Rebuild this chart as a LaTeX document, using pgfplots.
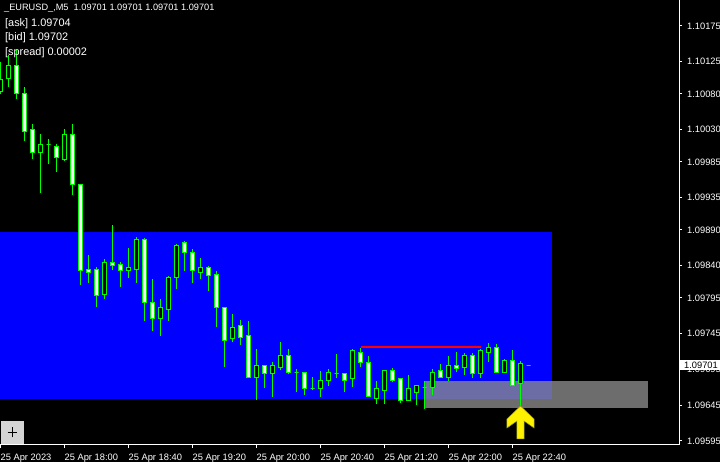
\documentclass[border=0pt]{standalone}
\usepackage{fontspec}
\setmainfont{Liberation Sans}
\usepackage{pgfplots}
\usepackage{pgfplotstable}
\pgfplotsset{compat=1.18}

\definecolor{mtgray}{RGB}{140,140,140}
\definecolor{btnface}{RGB}{212,212,212}
\definecolor{arrowedge}{RGB}{150,150,0}

% EURUSD M5, one row per bar: index, open, high, low, close
\pgfplotstableread{
x o h l c
0 1.10083 1.10125 1.10080 1.10100
1 1.10101 1.10134 1.10090 1.10120
2 1.10120 1.10141 1.10073 1.10081
3 1.10081 1.10090 1.10014 1.10027
4 1.10031 1.10038 1.09989 1.09998
5 1.09998 1.10024 1.09942 1.10010
6 1.10010 1.10017 1.09982 1.10010
7 1.10006 1.10010 1.09971 1.09991
8 1.09989 1.10031 1.09986 1.10023
9 1.10024 1.10038 1.09939 1.09953
10 1.09953 1.09953 1.09813 1.09833
11 1.09834 1.09855 1.09816 1.09831
12 1.09835 1.09838 1.09782 1.09798
13 1.09800 1.09849 1.09793 1.09844
14 1.09844 1.09897 1.09834 1.09840
15 1.09842 1.09845 1.09810 1.09833
16 1.09833 1.09865 1.09823 1.09837
17 1.09835 1.09880 1.09816 1.09876
18 1.09876 1.09879 1.09763 1.09788
19 1.09788 1.09821 1.09749 1.09766
20 1.09766 1.09793 1.09742 1.09782
21 1.09779 1.09826 1.09763 1.09823
22 1.09823 1.09870 1.09807 1.09868
23 1.09872 1.09875 1.09833 1.09858
24 1.09859 1.09863 1.09816 1.09833
25 1.09831 1.09851 1.09821 1.09838
26 1.09838 1.09840 1.09805 1.09826
27 1.09827 1.09833 1.09754 1.09781
28 1.09781 1.09781 1.09698 1.09735
29 1.09738 1.09772 1.09733 1.09753
30 1.09756 1.09764 1.09729 1.09740
31 1.09742 1.09763 1.09683 1.09684
32 1.09684 1.09724 1.09652 1.09700
33 1.09700 1.09701 1.09669 1.09689
34 1.09689 1.09705 1.09657 1.09700
35 1.09698 1.09733 1.09694 1.09714
36 1.09714 1.09724 1.09689 1.09691
37 1.09691 1.09696 1.09663 1.09691
38 1.09691 1.09691 1.09659 1.09668
39 1.09669 1.09684 1.09666 1.09669
40 1.09668 1.09693 1.09657 1.09680
41 1.09679 1.09696 1.09672 1.09691
42 1.09690 1.09717 1.09683 1.09690
43 1.09689 1.09690 1.09663 1.09679
44 1.09682 1.09724 1.09670 1.09722
45 1.09718 1.09725 1.09698 1.09705
46 1.09704 1.09714 1.09657 1.09657
47 1.09655 1.09679 1.09647 1.09668
48 1.09666 1.09693 1.09647 1.09693
49 1.09694 1.09697 1.09677 1.09680
50 1.09682 1.09682 1.09648 1.09651
51 1.09652 1.09687 1.09652 1.09668
52 1.09663 1.09673 1.09645 1.09673
53 1.09670 1.09679 1.09640 1.09670
54 1.09670 1.09696 1.09659 1.09691
55 1.09693 1.09703 1.09683 1.09684
56 1.09684 1.09714 1.09679 1.09700
57 1.09700 1.09719 1.09691 1.09696
58 1.09698 1.09718 1.09687 1.09715
59 1.09715 1.09718 1.09683 1.09690
60 1.09690 1.09724 1.09683 1.09721
61 1.09719 1.09732 1.09705 1.09725
62 1.09726 1.09731 1.09690 1.09691
63 1.09691 1.09710 1.09690 1.09708
64 1.09708 1.09722 1.09672 1.09673
65 1.09675 1.09707 1.09643 1.09703
66 1.09701 1.09701 1.09701 1.09701
}\ohlc

% 1.09701 -> 109701, to compare prices exactly
\def\pipval#1.#2\relax{#1#2}

\begin{document}
\begin{tikzpicture}
\fill[black] (0pt,0pt) rectangle (720pt,462pt);
\path[use as bounding box] (0pt,0pt) rectangle (720pt,462pt);

\begin{axis}[
  at={(0pt,17pt)}, anchor=south west,
  width=679pt, height=445pt, scale only axis,
  xmin=-0.0625, xmax=84.8125,
  ymin=1.095894, ymax=1.102113,
  axis x line*=bottom, axis y line*=right,
  axis line style={white, line width=1pt},
  tick style={white, line width=1pt},
  major tick length=3pt, tick align=outside,
  xtick={0,8,16,24,32,40,48,56,64},
  xticklabels={25 Apr 2023,25 Apr 18:00,25 Apr 18:40,25 Apr 19:20,25 Apr 20:00,25 Apr 20:40,25 Apr 21:20,25 Apr 22:00,25 Apr 22:40},
  ytick={1.09595,1.09645,1.09695,1.09745,1.09795,1.09840,1.09890,1.09935,1.09985,1.10030,1.10080,1.10125,1.10175},
  yticklabels={1.09595,1.09645,1.09695,1.09745,1.09795,1.09840,1.09890,1.09935,1.09985,1.10030,1.10080,1.10125,1.10175},
  scaled y ticks=false,
  ticklabel style={text=white, font=\fontsize{9.3pt}{10pt}\selectfont, inner sep=0pt},
  xticklabel style={anchor=base west, yshift=-12.7pt},
  yticklabel style={anchor=west, xshift=5pt},
]
% zones
\addplot[draw=none, fill=blue] coordinates {(-1,1.096537) (68.90,1.096537) (68.90,1.098871) (-1,1.098871)} -- cycle;
\addplot[draw=none, fill=mtgray, fill opacity=0.78] coordinates {(52.97,1.096411) (80.90,1.096411) (80.90,1.096789) (52.97,1.096789)} -- cycle;
\addplot[red, line width=2pt] coordinates {(45.0,1.09727) (60.05,1.09727)};

% candles
\pgfplotsinvokeforeach{0,...,66}{
  \pgfplotstablegetelem{#1}{x}\of\ohlc \let\cX\pgfplotsretval
  \pgfplotstablegetelem{#1}{o}\of\ohlc \let\cO\pgfplotsretval
  \pgfplotstablegetelem{#1}{h}\of\ohlc \let\cH\pgfplotsretval
  \pgfplotstablegetelem{#1}{l}\of\ohlc \let\cL\pgfplotsretval
  \pgfplotstablegetelem{#1}{c}\of\ohlc \let\cC\pgfplotsretval
  \ifnum\expandafter\pipval\cC\relax>\expandafter\pipval\cO\relax
    \def\bfill{black}\else\def\bfill{white}\fi
  \pgfmathsetmacro\xa{\cX-0.25}
  \pgfmathsetmacro\xb{\cX+0.25}
  \edef\tmp{
    \noexpand\addplot[green, line width=1pt] coordinates {(\cX,\cL) (\cX,\cH)};
    \noexpand\addplot[draw=green, fill=\bfill, line width=1pt]
      coordinates {(\xa,\cO) (\xb,\cO) (\xb,\cC) (\xa,\cC)} -- cycle;
  }
  \tmp
}

% signal arrow
\addplot[fill=yellow, draw=arrowedge, line width=0.5pt] coordinates {
  (65.0,1.096439) (66.69,1.096258) (66.69,1.096132) (65.44,1.096230)
  (65.44,1.095978) (64.56,1.095978) (64.56,1.096230) (63.31,1.096132)
  (63.31,1.096258)} -- cycle;
\end{axis}

% info text
\node[anchor=base west, inner sep=0pt, text=white, font=\fontsize{9.2pt}{10pt}\selectfont]
  at (4pt,451.7pt) {\_EURUSD\_,M5\ \ 1.09701 1.09701 1.09701 1.09701};
\node[anchor=base west, inner sep=0pt, text=white, font=\fontsize{10.9pt}{12pt}\selectfont]
  at (5pt,435.3pt) {{[}ask] 1.09704};
\node[anchor=base west, inner sep=0pt, text=white, font=\fontsize{10.9pt}{12pt}\selectfont]
  at (5pt,421.3pt) {{[}bid] 1.09702};
\node[anchor=base west, inner sep=0pt, text=white, font=\fontsize{10.9pt}{12pt}\selectfont]
  at (5pt,406.3pt) {{[}spread] 0.00002};

% current price tag
\fill[white] (679.5pt,91.5pt) rectangle (720pt,101.5pt);
\node[anchor=west, inner sep=0pt, text=black, font=\fontsize{9.3pt}{10pt}\selectfont]
  at (684pt,96.5pt) {1.09701};

% zoom button
\fill[btnface] (1pt,18pt) rectangle (24pt,41pt);
\draw[black, line width=1.5pt] (7.5pt,29.5pt) -- (17pt,29.5pt) (12.25pt,24.5pt) -- (12.25pt,34.5pt);
\end{tikzpicture}
\end{document}
